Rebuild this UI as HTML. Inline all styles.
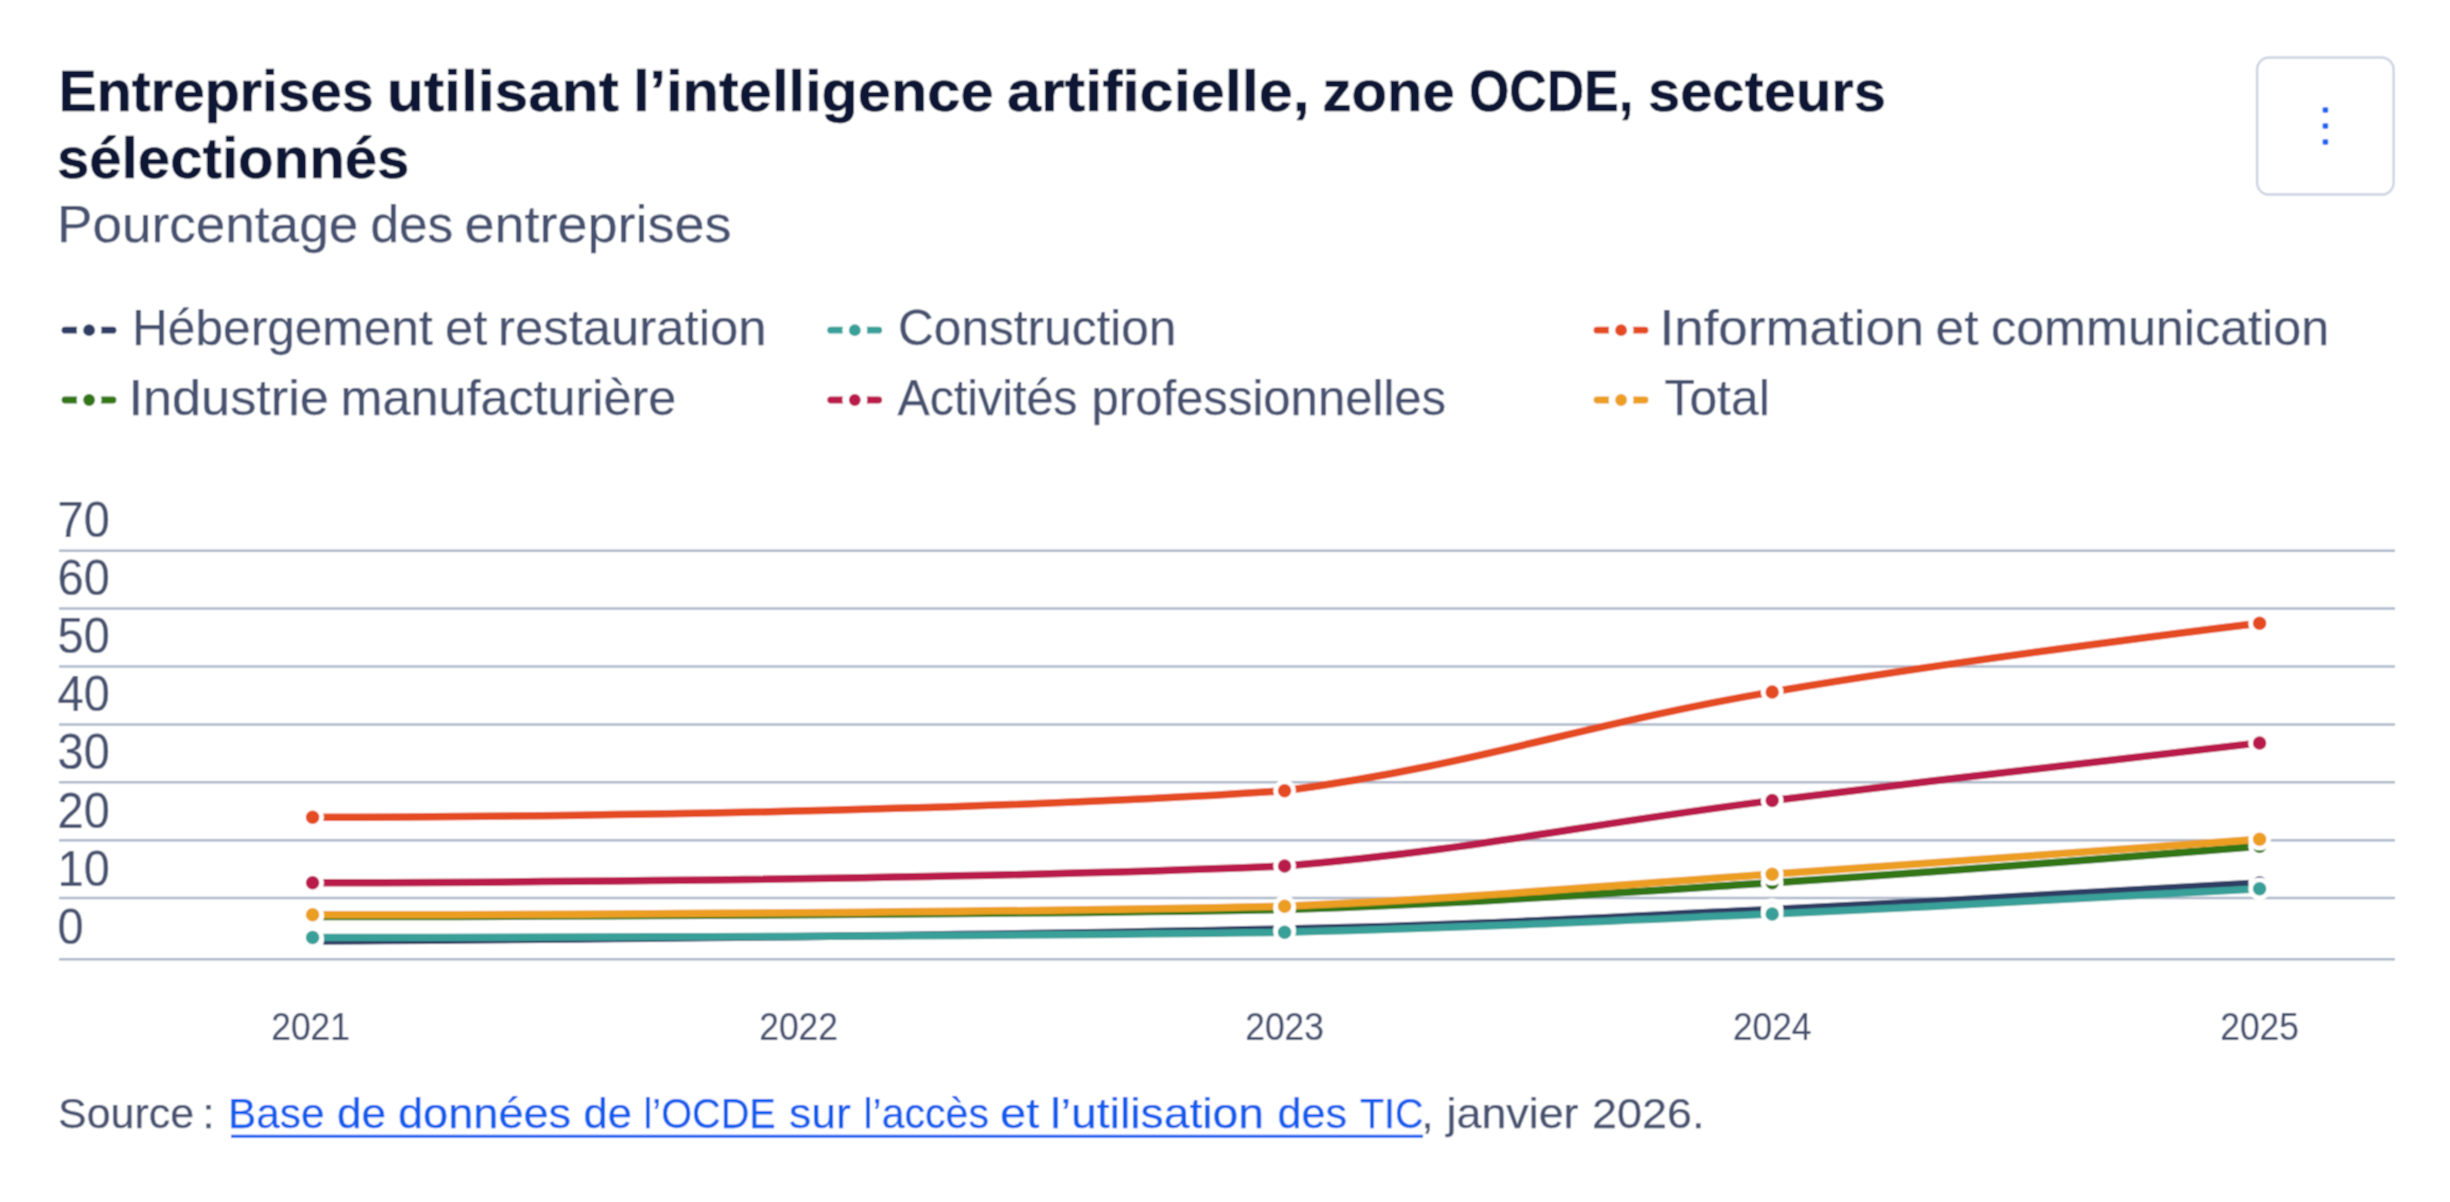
<!DOCTYPE html><html><head><meta charset="utf-8"><style>
html,body{margin:0;padding:0;background:#fff;width:2450px;height:1202px;overflow:hidden}
svg{display:block}
text{font-family:"Liberation Sans",sans-serif}
</style></head><body>
<svg width="2450" height="1202" viewBox="0 0 2450 1202">
<defs><filter id="b" x="0" y="0" width="2450" height="1202" filterUnits="userSpaceOnUse"><feConvolveMatrix order="3" kernelMatrix="1 2 1 2 4 2 1 2 1" divisor="16" edgeMode="duplicate" preserveAlpha="true"/></filter></defs><g filter="url(#b)">
<rect x="0" y="0" width="2450" height="1202" fill="#fff"/>
<text x="58.5" y="111" font-size="57" font-weight="700" fill="#0c1634" stroke="#0c1634" stroke-width="0.5" textLength="315.07" lengthAdjust="spacingAndGlyphs">Entreprises</text>
<text x="387.0" y="111" font-size="57" font-weight="700" fill="#0c1634" stroke="#0c1634" stroke-width="0.5" textLength="231.94" lengthAdjust="spacingAndGlyphs">utilisant</text>
<text x="633.0" y="111" font-size="57" font-weight="700" fill="#0c1634" stroke="#0c1634" stroke-width="0.5" textLength="360.54" lengthAdjust="spacingAndGlyphs">l’intelligence</text>
<text x="1007.0" y="111" font-size="57" font-weight="700" fill="#0c1634" stroke="#0c1634" stroke-width="0.5" textLength="302.73" lengthAdjust="spacingAndGlyphs">artificielle,</text>
<text x="1322.5" y="111" font-size="57" font-weight="700" fill="#0c1634" stroke="#0c1634" stroke-width="0.5" textLength="132.32" lengthAdjust="spacingAndGlyphs">zone</text>
<text x="1469.0" y="111" font-size="57" font-weight="700" fill="#0c1634" stroke="#0c1634" stroke-width="0.5" textLength="164.35" lengthAdjust="spacingAndGlyphs">OCDE,</text>
<text x="1648.0" y="111" font-size="57" font-weight="700" fill="#0c1634" stroke="#0c1634" stroke-width="0.5" textLength="237.97" lengthAdjust="spacingAndGlyphs">secteurs</text>
<text x="57.0" y="178" font-size="57" font-weight="700" fill="#0c1634" stroke="#0c1634" stroke-width="0.5" textLength="352.41" lengthAdjust="spacingAndGlyphs">sélectionnés</text>
<text x="57.0" y="241.5" font-size="52" fill="#465170" stroke="#465170" stroke-width="0.25" textLength="301.24" lengthAdjust="spacingAndGlyphs">Pourcentage</text>
<text x="370.5" y="241.5" font-size="52" fill="#465170" stroke="#465170" stroke-width="0.25" textLength="82.8" lengthAdjust="spacingAndGlyphs">des</text>
<text x="464.5" y="241.5" font-size="52" fill="#465170" stroke="#465170" stroke-width="0.25" textLength="267.0" lengthAdjust="spacingAndGlyphs">entreprises</text>
<text x="132.0" y="345.2" font-size="50.5" fill="#465170" stroke="#465170" stroke-width="0.25" textLength="300.7" lengthAdjust="spacingAndGlyphs">Hébergement</text>
<text x="445.0" y="345.2" font-size="50.5" fill="#465170" stroke="#465170" stroke-width="0.25" textLength="42.37" lengthAdjust="spacingAndGlyphs">et</text>
<text x="498.0" y="345.2" font-size="50.5" fill="#465170" stroke="#465170" stroke-width="0.25" textLength="268.53" lengthAdjust="spacingAndGlyphs">restauration</text>
<text x="898.0" y="345.2" font-size="50.5" fill="#465170" stroke="#465170" stroke-width="0.25" textLength="278.39" lengthAdjust="spacingAndGlyphs">Construction</text>
<text x="1659.5" y="345.2" font-size="50.5" fill="#465170" stroke="#465170" stroke-width="0.25" textLength="264.79" lengthAdjust="spacingAndGlyphs">Information</text>
<text x="1935.5" y="345.2" font-size="50.5" fill="#465170" stroke="#465170" stroke-width="0.25" textLength="43.0" lengthAdjust="spacingAndGlyphs">et</text>
<text x="1991.0" y="345.2" font-size="50.5" fill="#465170" stroke="#465170" stroke-width="0.25" textLength="338.2" lengthAdjust="spacingAndGlyphs">communication</text>
<text x="128.5" y="415" font-size="50.5" fill="#465170" stroke="#465170" stroke-width="0.25" textLength="200.33" lengthAdjust="spacingAndGlyphs">Industrie</text>
<text x="340.5" y="415" font-size="50.5" fill="#465170" stroke="#465170" stroke-width="0.25" textLength="335.83" lengthAdjust="spacingAndGlyphs">manufacturière</text>
<text x="897.5" y="415" font-size="50.5" fill="#465170" stroke="#465170" stroke-width="0.25" textLength="179.94" lengthAdjust="spacingAndGlyphs">Activités</text>
<text x="1091.5" y="415" font-size="50.5" fill="#465170" stroke="#465170" stroke-width="0.25" textLength="354.62" lengthAdjust="spacingAndGlyphs">professionnelles</text>
<text x="1664.5" y="415" font-size="50.5" fill="#465170" stroke="#465170" stroke-width="0.25" textLength="105.21" lengthAdjust="spacingAndGlyphs">Total</text>
<text x="58.0" y="1128.3" font-size="43" fill="#465170" stroke="#465170" stroke-width="0.25" textLength="136.05" lengthAdjust="spacingAndGlyphs">Source</text>
<text x="202.5" y="1128.3" font-size="43" fill="#465170" stroke="#465170" stroke-width="0.25">:</text>
<text x="228.0" y="1128.3" font-size="43" fill="#115bee" stroke="#115bee" stroke-width="0.25" textLength="96.54" lengthAdjust="spacingAndGlyphs">Base</text>
<text x="337.0" y="1128.3" font-size="43" fill="#115bee" stroke="#115bee" stroke-width="0.25" textLength="49.16" lengthAdjust="spacingAndGlyphs">de</text>
<text x="398.0" y="1128.3" font-size="43" fill="#115bee" stroke="#115bee" stroke-width="0.25" textLength="173.15" lengthAdjust="spacingAndGlyphs">données</text>
<text x="583.5" y="1128.3" font-size="43" fill="#115bee" stroke="#115bee" stroke-width="0.25" textLength="48.51" lengthAdjust="spacingAndGlyphs">de</text>
<text x="643.5" y="1128.3" font-size="43" fill="#115bee" stroke="#115bee" stroke-width="0.25" textLength="132.34" lengthAdjust="spacingAndGlyphs">l’OCDE</text>
<text x="789.0" y="1128.3" font-size="43" fill="#115bee" stroke="#115bee" stroke-width="0.25" textLength="61.85" lengthAdjust="spacingAndGlyphs">sur</text>
<text x="863.5" y="1128.3" font-size="43" fill="#115bee" stroke="#115bee" stroke-width="0.25" textLength="125.44" lengthAdjust="spacingAndGlyphs">l’accès</text>
<text x="1000.0" y="1128.3" font-size="43" fill="#115bee" stroke="#115bee" stroke-width="0.25" textLength="39.26" lengthAdjust="spacingAndGlyphs">et</text>
<text x="1050.5" y="1128.3" font-size="43" fill="#115bee" stroke="#115bee" stroke-width="0.25" textLength="213.59" lengthAdjust="spacingAndGlyphs">l’utilisation</text>
<text x="1277.5" y="1128.3" font-size="43" fill="#115bee" stroke="#115bee" stroke-width="0.25" textLength="69.56" lengthAdjust="spacingAndGlyphs">des</text>
<text x="1360.0" y="1128.3" font-size="43" fill="#115bee" stroke="#115bee" stroke-width="0.25" textLength="63.51" lengthAdjust="spacingAndGlyphs">TIC</text>
<text x="1421.5" y="1128.3" font-size="43" fill="#465170" stroke="#465170" stroke-width="0.25">,</text>
<text x="1446.5" y="1128.3" font-size="43" fill="#465170" stroke="#465170" stroke-width="0.25" textLength="132.02" lengthAdjust="spacingAndGlyphs">janvier</text>
<text x="1592.0" y="1128.3" font-size="43" fill="#465170" stroke="#465170" stroke-width="0.25" textLength="112.52" lengthAdjust="spacingAndGlyphs">2026.</text>
<rect x="2257.1" y="57.6" width="136.5" height="137" rx="12" ry="12" fill="#fff" stroke="#cdd5e2" stroke-width="2.5"/>
<rect x="2322.6" y="107.2" width="5.6" height="5.6" rx="1.2" fill="#1f63f0"/>
<rect x="2322.6" y="123.2" width="5.6" height="5.6" rx="1.2" fill="#1f63f0"/>
<rect x="2322.6" y="139.2" width="5.6" height="5.6" rx="1.2" fill="#1f63f0"/>
<line x1="65.0" y1="330.2" x2="113.0" y2="330.2" stroke="#2d3c64" stroke-width="6.8" stroke-linecap="round"/>
<circle cx="89.1" cy="330.2" r="9.15" fill="#2d3c64" stroke="#fff" stroke-width="6.5"/>
<line x1="830.6999999999999" y1="330.2" x2="878.6999999999999" y2="330.2" stroke="#39a098" stroke-width="6.8" stroke-linecap="round"/>
<circle cx="854.8" cy="330.2" r="9.15" fill="#39a098" stroke="#fff" stroke-width="6.5"/>
<line x1="1597.0" y1="330.2" x2="1645.0" y2="330.2" stroke="#e54c22" stroke-width="6.8" stroke-linecap="round"/>
<circle cx="1621.1" cy="330.2" r="9.15" fill="#e54c22" stroke="#fff" stroke-width="6.5"/>
<line x1="65.0" y1="400" x2="113.0" y2="400" stroke="#327619" stroke-width="6.8" stroke-linecap="round"/>
<circle cx="89.1" cy="400" r="9.15" fill="#327619" stroke="#fff" stroke-width="6.5"/>
<line x1="830.6999999999999" y1="400" x2="878.6999999999999" y2="400" stroke="#b91b4b" stroke-width="6.8" stroke-linecap="round"/>
<circle cx="854.8" cy="400" r="9.15" fill="#b91b4b" stroke="#fff" stroke-width="6.5"/>
<line x1="1597.0" y1="400" x2="1645.0" y2="400" stroke="#ec9e21" stroke-width="6.8" stroke-linecap="round"/>
<circle cx="1621.1" cy="400" r="9.15" fill="#ec9e21" stroke="#fff" stroke-width="6.5"/>
<line x1="59" y1="550.7" x2="2395" y2="550.7" stroke="#adb8c9" stroke-width="2.5"/>
<line x1="59" y1="608.6" x2="2395" y2="608.6" stroke="#adb8c9" stroke-width="2.5"/>
<line x1="59" y1="666.5" x2="2395" y2="666.5" stroke="#adb8c9" stroke-width="2.5"/>
<line x1="59" y1="724.4" x2="2395" y2="724.4" stroke="#adb8c9" stroke-width="2.5"/>
<line x1="59" y1="782.3" x2="2395" y2="782.3" stroke="#adb8c9" stroke-width="2.5"/>
<line x1="59" y1="840.2" x2="2395" y2="840.2" stroke="#adb8c9" stroke-width="2.5"/>
<line x1="59" y1="898.1" x2="2395" y2="898.1" stroke="#adb8c9" stroke-width="2.5"/>
<line x1="59" y1="959.2" x2="2395" y2="959.2" stroke="#adb8c9" stroke-width="2.5"/>
<text transform="translate(57.6 536.8) scale(0.93 1)" font-size="50.5" fill="#465170" stroke="#465170" stroke-width="0.25">70</text>
<text transform="translate(57.6 594.9) scale(0.93 1)" font-size="50.5" fill="#465170" stroke="#465170" stroke-width="0.25">60</text>
<text transform="translate(57.6 653.1) scale(0.93 1)" font-size="50.5" fill="#465170" stroke="#465170" stroke-width="0.25">50</text>
<text transform="translate(57.6 711.2) scale(0.93 1)" font-size="50.5" fill="#465170" stroke="#465170" stroke-width="0.25">40</text>
<text transform="translate(57.6 769.4) scale(0.93 1)" font-size="50.5" fill="#465170" stroke="#465170" stroke-width="0.25">30</text>
<text transform="translate(57.6 827.5) scale(0.93 1)" font-size="50.5" fill="#465170" stroke="#465170" stroke-width="0.25">20</text>
<text transform="translate(57.6 885.6) scale(0.93 1)" font-size="50.5" fill="#465170" stroke="#465170" stroke-width="0.25">10</text>
<text transform="translate(57.6 943.8) scale(0.93 1)" font-size="50.5" fill="#465170" stroke="#465170" stroke-width="0.25">0</text>
<text transform="translate(310.6 1039.6) scale(0.93 1)" font-size="38" fill="#465170" stroke="#465170" stroke-width="0.25" text-anchor="middle">2021</text>
<text transform="translate(798.6 1039.6) scale(0.93 1)" font-size="38" fill="#465170" stroke="#465170" stroke-width="0.25" text-anchor="middle">2022</text>
<text transform="translate(1284.6 1039.6) scale(0.93 1)" font-size="38" fill="#465170" stroke="#465170" stroke-width="0.25" text-anchor="middle">2023</text>
<text transform="translate(1772.2 1039.6) scale(0.93 1)" font-size="38" fill="#465170" stroke="#465170" stroke-width="0.25" text-anchor="middle">2024</text>
<text transform="translate(2259.6 1039.6) scale(0.93 1)" font-size="38" fill="#465170" stroke="#465170" stroke-width="0.25" text-anchor="middle">2025</text>
<path d="M312.60,941.00C312.60,941.00 895.80,937.39 1284.60,929.00C1479.64,924.79 1577.16,918.70 1772.20,909.50C1967.16,900.30 2259.60,883.00 2259.60,883.00" fill="none" stroke="#2d3c64" stroke-width="7.5" stroke-linejoin="round" stroke-linecap="round"/>
<path d="M312.60,937.50C312.60,937.50 895.80,937.50 1284.60,932.30C1479.64,927.10 1577.16,922.70 1772.20,914.00C1967.16,905.30 2259.60,888.80 2259.60,888.80" fill="none" stroke="#39a098" stroke-width="7.5" stroke-linejoin="round" stroke-linecap="round"/>
<path d="M312.60,817.30C312.60,817.30 895.80,817.30 1284.60,790.80C1479.64,764.30 1577.16,725.43 1772.20,691.90C1967.16,658.39 2259.60,623.20 2259.60,623.20" fill="none" stroke="#e54c22" stroke-width="7.5" stroke-linejoin="round" stroke-linecap="round"/>
<path d="M312.60,916.50C312.60,916.50 895.80,916.50 1284.60,909.50C1479.64,902.50 1577.16,895.36 1772.20,882.70C1967.16,870.04 2259.60,846.20 2259.60,846.20" fill="none" stroke="#327619" stroke-width="7.5" stroke-linejoin="round" stroke-linecap="round"/>
<path d="M312.60,882.70C312.60,882.70 895.80,882.70 1284.60,866.00C1479.64,849.30 1577.16,825.23 1772.20,800.60C1967.16,775.99 2259.60,742.90 2259.60,742.90" fill="none" stroke="#b91b4b" stroke-width="7.5" stroke-linejoin="round" stroke-linecap="round"/>
<path d="M312.60,914.80C312.60,914.80 895.80,914.80 1284.60,906.20C1479.64,897.60 1577.16,887.58 1772.20,874.20C1967.16,860.82 2259.60,839.30 2259.60,839.30" fill="none" stroke="#ec9e21" stroke-width="7.5" stroke-linejoin="round" stroke-linecap="round"/>
<circle cx="312.60" cy="941" r="9.0" fill="#2d3c64" stroke="#fff" stroke-width="4.5"/>
<circle cx="1284.60" cy="929" r="9.0" fill="#2d3c64" stroke="#fff" stroke-width="4.5"/>
<circle cx="1772.20" cy="909.5" r="9.0" fill="#2d3c64" stroke="#fff" stroke-width="4.5"/>
<circle cx="2259.60" cy="883" r="9.0" fill="#2d3c64" stroke="#fff" stroke-width="4.5"/>
<circle cx="312.60" cy="937.5" r="9.0" fill="#39a098" stroke="#fff" stroke-width="4.5"/>
<circle cx="1284.60" cy="932.3" r="9.0" fill="#39a098" stroke="#fff" stroke-width="4.5"/>
<circle cx="1772.20" cy="914" r="9.0" fill="#39a098" stroke="#fff" stroke-width="4.5"/>
<circle cx="2259.60" cy="888.8" r="9.0" fill="#39a098" stroke="#fff" stroke-width="4.5"/>
<circle cx="312.60" cy="817.3" r="9.0" fill="#e54c22" stroke="#fff" stroke-width="4.5"/>
<circle cx="1284.60" cy="790.8" r="9.0" fill="#e54c22" stroke="#fff" stroke-width="4.5"/>
<circle cx="1772.20" cy="691.9" r="9.0" fill="#e54c22" stroke="#fff" stroke-width="4.5"/>
<circle cx="2259.60" cy="623.2" r="9.0" fill="#e54c22" stroke="#fff" stroke-width="4.5"/>
<circle cx="312.60" cy="916.5" r="9.0" fill="#327619" stroke="#fff" stroke-width="4.5"/>
<circle cx="1284.60" cy="909.5" r="9.0" fill="#327619" stroke="#fff" stroke-width="4.5"/>
<circle cx="1772.20" cy="882.7" r="9.0" fill="#327619" stroke="#fff" stroke-width="4.5"/>
<circle cx="2259.60" cy="846.2" r="9.0" fill="#327619" stroke="#fff" stroke-width="4.5"/>
<circle cx="312.60" cy="882.7" r="9.0" fill="#b91b4b" stroke="#fff" stroke-width="4.5"/>
<circle cx="1284.60" cy="866" r="9.0" fill="#b91b4b" stroke="#fff" stroke-width="4.5"/>
<circle cx="1772.20" cy="800.6" r="9.0" fill="#b91b4b" stroke="#fff" stroke-width="4.5"/>
<circle cx="2259.60" cy="742.9" r="9.0" fill="#b91b4b" stroke="#fff" stroke-width="4.5"/>
<circle cx="312.60" cy="914.8" r="9.0" fill="#ec9e21" stroke="#fff" stroke-width="4.5"/>
<circle cx="1284.60" cy="906.2" r="9.0" fill="#ec9e21" stroke="#fff" stroke-width="4.5"/>
<circle cx="1772.20" cy="874.2" r="9.0" fill="#ec9e21" stroke="#fff" stroke-width="4.5"/>
<circle cx="2259.60" cy="839.3" r="9.0" fill="#ec9e21" stroke="#fff" stroke-width="4.5"/>
<line x1="231" y1="1136.3" x2="1423" y2="1136.3" stroke="#115bee" stroke-width="3"/>
</g></svg></body></html>
